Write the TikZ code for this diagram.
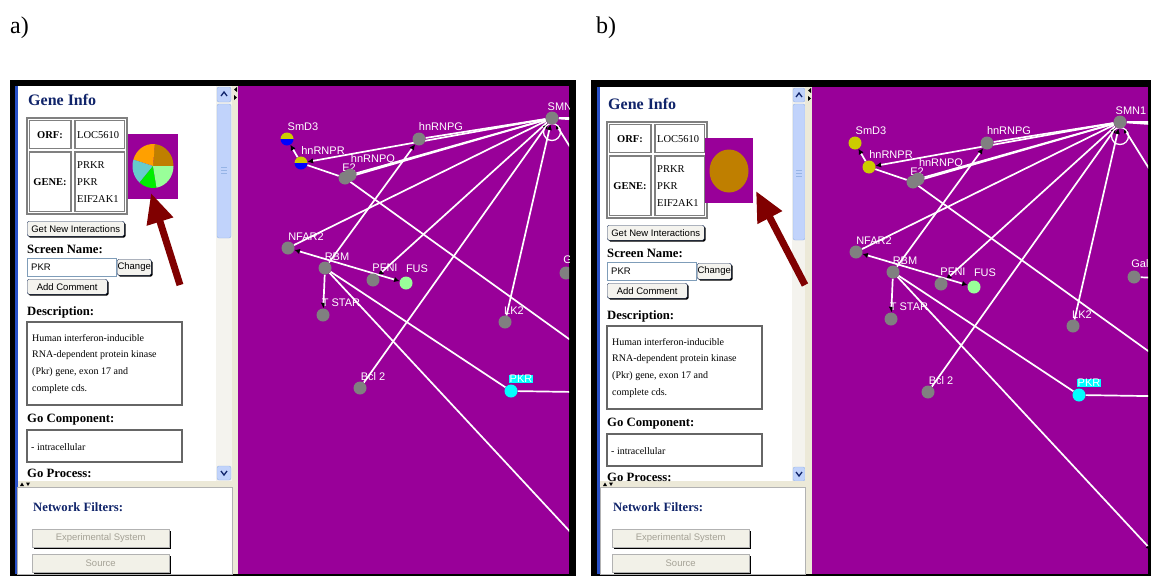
\documentclass[tikz,border=0pt]{standalone}
\usepackage{fontspec}
\setmainfont{Liberation Serif}
\newfontfamily\sansf{Liberation Sans}
\usetikzlibrary{arrows.meta,shadows}
\definecolor{purp}{RGB}{153,0,153}
\definecolor{ngray}{RGB}{128,128,128}
\definecolor{lgreen}{RGB}{153,255,153}
\definecolor{cyanc}{RGB}{0,255,255}
\definecolor{yelc}{RGB}{204,204,0}
\definecolor{bluc}{RGB}{0,0,255}
\definecolor{navy}{RGB}{16,36,106}
\definecolor{dred}{RGB}{128,0,0}
\definecolor{pbrown}{RGB}{191,127,0}
\definecolor{porange}{RGB}{255,160,0}
\definecolor{pcyan}{RGB}{102,204,204}
\definecolor{pgreen}{RGB}{0,238,0}
\definecolor{scrl}{RGB}{193,211,251}
\definecolor{scrlb}{RGB}{150,180,230}
\definecolor{track}{RGB}{244,243,238}
\definecolor{pane}{RGB}{236,233,216}
\definecolor{btnf}{RGB}{244,243,238}
\definecolor{btnb}{RGB}{40,60,100}
\definecolor{gbtnf}{RGB}{242,241,232}
\definecolor{gbtnt}{RGB}{165,162,150}
\definecolor{tboxb}{RGB}{127,157,185}
\definecolor{bline}{RGB}{40,80,200}
\tikzset{
 gn/.style={circle,minimum size=13pt,inner sep=0pt},
 ed/.style={draw=white,line width=1.7pt},
 arr/.style={-{Latex[length=5.5pt,width=5.5pt,color=black]}},
 arrb/.style={{Latex[length=5.5pt,width=5.5pt,color=black]}-{Latex[length=5.5pt,width=5.5pt,color=black]}},
 lab/.style={text=white,font=\sansf\fontsize{11}{12}\selectfont,inner sep=0.6pt},
 hd/.style={font=\bfseries\fontsize{12.7}{14}\selectfont,anchor=west,inner sep=0pt,text=black},
 tb/.style={font=\fontsize{10.5}{12}\selectfont,inner sep=0pt},
 dt/.style={font=\fontsize{10}{12}\selectfont,anchor=west,inner sep=0pt},
 tblo/.style={draw=ngray,line width=1.6pt},
 tbli/.style={draw=ngray,line width=1.2pt},
 boxs/.style={draw=ngray!80!black,line width=1.8pt},
 btn/.style={draw=btnb,fill=btnf,rounded corners=1.5pt,inner sep=0pt,anchor=north west,
   font=\sansf\fontsize{9.5}{11}\selectfont,
   general shadow={fill=black,shadow xshift=1.3pt,shadow yshift=-1.3pt}},
 gbtn/.style={draw=gray!60,fill=gbtnf,inner sep=0pt,anchor=north west,text=gbtnt,
   font=\sansf\fontsize{9.5}{11}\selectfont,
   general shadow={fill=black,shadow xshift=2pt,shadow yshift=-2pt}},
 bigarr/.style={draw=dred,line width=7pt,-{Triangle[length=30pt,width=26pt,color=dred]}},
}
\newcommand\gdot[2]{\fill[#2] (#1.center) circle[radius=6.5];}
\newcommand\halfdot[1]{%
 \fill[yelc] (#1.center) ++(-6.5,0) arc[start angle=180,end angle=360,radius=6.5] -- cycle;
 \fill[bluc] (#1.center) ++(6.5,0) arc[start angle=0,end angle=180,radius=6.5] -- cycle;}
\newcommand\yeldot[1]{\gdot{#1}{yelc}}
\newcommand\netgraph[1]{%
 \node[gn] (SMN) at (552,118) {};
 \node[gn] (SmD3) at (287,139) {};
 \node[gn] (hnRNPR) at (301,163) {};
 \node[gn] (hnRNPG) at (419,139) {};
 \node[gn] (E2) at (345,178) {};
 \node[gn] (E2b) at (350,175) {};
 \node[gn] (NFAR2) at (288,248) {};
 \node[gn] (RBM) at (325,268) {};
 \node[gn] (PFNI) at (373,280) {};
 \node[gn] (FUS) at (406,283) {};
 \node[gn] (TSTAR) at (323,315) {};
 \node[gn] (LK2) at (505,322) {};
 \node[gn] (Gale) at (566,273) {};
 \node[gn] (Bcl2) at (360,388) {};
 \node[gn] (PKR) at (511,391) {};
 \node[gn] (BR) at (588,551) {};
 \coordinate (cR1) at (640,118);
 \coordinate (cR2) at (640,124);
 \coordinate (cDR) at (600,195);
 \coordinate (cE) at (640,390);
 \coordinate (cP) at (640,393);
 \coordinate (cG) at (640,276);
 \draw[ed] (SMN) -- (hnRNPG);
 \draw[ed,arr] (SMN) -- (hnRNPR);
 \draw[ed] (SMN) -- (E2);
 \draw[ed] (SMN) -- (E2b);
 \draw[ed] (SMN) -- (NFAR2);
 \draw[ed,arr] (SMN) -- (PFNI);
 \draw[ed,arr] (Bcl2) -- (SMN);
 \draw[ed,arr] (LK2) -- (SMN);
 \draw[ed] (SMN) -- (cR1);
 \draw[ed] (SMN) -- (cR2);
 \draw[ed,arr] (cDR) -- (SMN);
 \draw[ed,line width=1.3pt] (SMN.center) ++(0,14) circle[radius=8.5];
 \draw[ed,arr] (RBM) -- (hnRNPG);
 \draw[ed] (hnRNPR) -- (E2);
 \draw[ed,arr] (hnRNPR) -- (SmD3);
 \draw[ed,arrb] (NFAR2) -- (FUS);
 \draw[ed,arr] (RBM) -- (TSTAR);
 \draw[ed] (RBM) -- (PKR);
 \draw[ed,arr] (RBM) -- (BR);
 \draw[ed] (E2) -- (cE);
 \draw[ed] (PKR) -- (cP);
 \draw[ed] (Gale) -- (cG);
 \node[lab] (tE2) at (349,168) {E2};
 \gdot{SMN}{ngray}
 #1{SmD3}
 #1{hnRNPR}
 \gdot{hnRNPG}{ngray}
 \gdot{E2}{ngray}
 \gdot{E2b}{ngray}
 \gdot{NFAR2}{ngray}
 \gdot{RBM}{ngray}
 \gdot{PFNI}{ngray}
 \gdot{FUS}{lgreen}
 \gdot{TSTAR}{ngray}
 \gdot{LK2}{ngray}
 \gdot{Gale}{ngray}
 \gdot{Bcl2}{ngray}
 \gdot{PKR}{cyanc}
 \gdot{BR}{ngray}
 \node[lab] (tSMN) at (563,107) {SMN1};
 \node[lab] (tSmD3) at (303,127) {SmD3};
 \node[lab] (thnR) at (323,151) {hnRNPR};
 \node[lab] (thnG) at (441,127) {hnRNPG};
 \node[lab] (thnQ) at (373,160) {hnRNPQ};
 \node[lab] (tNFAR2) at (306,237) {NFAR2};
 \node[lab] (tRBM) at (337,257) {RBM};
 \node[lab] (tPFNI) at (385,268) {PFNI};
 \node[lab] (tFUS) at (417,269) {FUS};
 \node[lab] (tTSTAR) at (341,303) {T STAR};
 \node[lab] (tLK2) at (514,311) {LK2};
 \node[lab] (tGale) at (575,260) {Gale};
 \node[lab] (tBcl2) at (373,377) {Bcl 2};
 \node[lab,fill=cyanc] (tPKR) at (521,379) {PKR};
}
\newcommand\uppercontent{%
 \node[anchor=west,inner sep=0pt,text=navy,font=\bfseries\fontsize{16}{18}\selectfont] (gi) at (28,100) {Gene Info};
 \draw[tblo] (27,118) rectangle (127,214);
 \draw[tbli] (29.5,120.5) rectangle (71,148.5);
 \draw[tbli] (75,120.5) rectangle (124.5,148.5);
 \draw[tbli] (29.5,152) rectangle (71,211.5);
 \draw[tbli] (75,152) rectangle (124.5,211.5);
 \node[tb,font=\bfseries\fontsize{10.5}{12}\selectfont] (orf) at (50,135) {ORF:};
 \node[tb,anchor=west] (loc) at (77,135) {LOC5610};
 \node[tb,font=\bfseries\fontsize{10.5}{12}\selectfont] (gene) at (50,182) {GENE:};
 \node[tb,anchor=west] (g1) at (77,165) {PRKR};
 \node[tb,anchor=west] (g2) at (77,182) {PKR};
 \node[tb,anchor=west] (g3) at (77,199) {EIF2AK1};
 \node[btn,minimum width=97pt,minimum height=15pt] (bgni) at (27,221) {Get New Interactions};
 \node[hd] (sn) at (27,249) {Screen Name:};
 \node[draw=tboxb,fill=white,minimum width=89pt,minimum height=18pt,anchor=north west,inner sep=0pt] (tbx) at (27,258) {};
 \node[anchor=west,inner sep=0pt,font=\sansf\fontsize{9.5}{11}\selectfont] (tpkr) at (31,267) {PKR};
 \node[btn,minimum width=34pt,minimum height=16pt] (bch) at (117,259) {Change};
 \node[btn,minimum width=80pt,minimum height=15pt] (bac) at (27,279) {Add Comment};
 \node[hd] (desc) at (27,312) {Description:};
 \draw[boxs] (27,322) rectangle (182,405);
 \node[dt] (d1) at (32,338) {Human interferon-inducible};
 \node[dt] (d2) at (32,355) {RNA-dependent protein kinase};
 \node[dt] (d3) at (32,372) {(Pkr) gene, exon 17 and};
 \node[dt] (d4) at (32,389) {complete cds.};
 \node[hd] (gc) at (27,420) {Go Component:};
 \draw[boxs] (27,430) rectangle (182,462);
 \node[dt] (ic) at (31,447) {- intracellular};
 \node[hd] (gp) at (27,473) {Go Process:};
}
\newcommand\lowercontent{%
 \node[anchor=west,inner sep=0pt,text=navy,font=\bfseries\fontsize{12.7}{14}\selectfont] (nf) at (33,507) {Network Filters:};
 \node[gbtn,minimum width=137pt,minimum height=18pt] (bes) at (32,529) {Experimental System};
 \node[gbtn,minimum width=137pt,minimum height=18pt] (bsrc) at (32,554) {Source};
}
\begin{document}
\begin{tikzpicture}[x=1pt,y=-1pt]
\useasboundingbox (0,0) rectangle (1151,576);
\fill[white] (0,0) rectangle (1151,576);
\node[anchor=west,inner sep=0pt,font=\fontsize{24}{26}\selectfont] (la) at (10,28) {a)};
\node[anchor=west,inner sep=0pt,font=\fontsize{24}{26}\selectfont] (lb) at (596,28) {b)};
% ---------------- panel a frame
\fill[black] (10,80) rectangle (576,576);
\fill[bline] (15,86) rectangle (17.5,574);
\fill[white] (17.5,86) rectangle (216,481);
\fill[track] (216,86) rectangle (232,481);
\fill[scrl,draw=scrlb,rounded corners=2pt] (217,87) rectangle (231,102);
\draw[navy,line width=1.3pt] (221,96) -- (224,92) -- (227,96);
\fill[scrl,draw=scrlb,rounded corners=2pt] (217,104) rectangle (231,238);
\foreach \yy in {167,170,173} {\draw[scrlb,line width=0.8pt] (221,\yy) -- (227,\yy);}
\fill[scrl,draw=scrlb,rounded corners=2pt] (217,466) rectangle (231,480);
\draw[navy,line width=1.3pt] (221,471) -- (224,475) -- (227,471);
\fill[pane] (232,86) rectangle (238,574);
\fill[black] (237,87) -- (234,89.5) -- (237,92) -- cycle;
\fill[black] (234,95) -- (237,97.5) -- (234,100) -- cycle;
\fill[pane] (17.5,481) rectangle (232,487);
\fill[black] (20,486) -- (22,482.5) -- (24,486) -- cycle;
\fill[black] (26,482.5) -- (28,486) -- (30,482.5) -- cycle;
\fill[white,draw=gray!60] (17.5,487) rectangle (232,574);
\uppercontent
\begin{scope}
\clip (17.5,487) rectangle (232,574);
\lowercontent
\end{scope}
\begin{scope}
\clip (238,86) rectangle (569,574);
\fill[purp] (238,86) rectangle (569,574);
\netgraph{\halfdot}
\end{scope}
% pie
\fill[purp] (128,134) rectangle (178,199);
\coordinate (pc) at (153,166);
\fill[pbrown] (pc) -- ++({20.5*cos(0)},{22*sin(0)}) arc[start angle=0,end angle=-85,x radius=20.5,y radius=22] -- cycle;
\fill[porange] (pc) -- ++({20.5*cos(-85)},{22*sin(-85)}) arc[start angle=-85,end angle=-163,x radius=20.5,y radius=22] -- cycle;
\fill[pcyan] (pc) -- ++({20.5*cos(-163)},{22*sin(-163)}) arc[start angle=-163,end angle=-229,x radius=20.5,y radius=22] -- cycle;
\fill[pgreen] (pc) -- ++({20.5*cos(-229)},{22*sin(-229)}) arc[start angle=-229,end angle=-280,x radius=20.5,y radius=22] -- cycle;
\fill[lgreen] (pc) -- ++({20.5*cos(-280)},{22*sin(-280)}) arc[start angle=-280,end angle=-360,x radius=20.5,y radius=22] -- cycle;
\coordinate (atail) at (180,285);
\coordinate (ahead) at (151,193);
\draw[bigarr] (atail) -- (ahead);
% ---------------- panel b frame
\fill[black] (591,80) rectangle (1151,576);
\fill[bline] (597,87) rectangle (600,574);
\fill[white] (600,87) rectangle (792,481);
\fill[track] (792,87) rectangle (805,481);
\fill[scrl,draw=scrlb,rounded corners=2pt] (793,88) rectangle (805,102);
\draw[navy,line width=1.3pt] (796,97) -- (799,93) -- (802,97);
\fill[scrl,draw=scrlb,rounded corners=2pt] (793,104) rectangle (805,240);
\foreach \yy in {170,173,176} {\draw[scrlb,line width=0.8pt] (796,\yy) -- (802,\yy);}
\fill[scrl,draw=scrlb,rounded corners=2pt] (793,467) rectangle (805,481);
\draw[navy,line width=1.3pt] (796,472) -- (799,476) -- (802,472);
\fill[pane] (805,87) rectangle (812,574);
\fill[black] (811,88) -- (808,90.5) -- (811,93) -- cycle;
\fill[black] (808,96) -- (811,98.5) -- (808,101) -- cycle;
\fill[pane] (600,481) rectangle (805,487);
\fill[black] (603,486) -- (605,482.5) -- (607,486) -- cycle;
\fill[black] (609,482.5) -- (611,486) -- (613,482.5) -- cycle;
\fill[white,draw=gray!60] (600,487) rectangle (805,574);
\begin{scope}[shift={(580,4)},name prefix=b-]
\uppercontent
\end{scope}
\begin{scope}
\clip (600,487) rectangle (805,574);
\begin{scope}[shift={(580,0)},name prefix=b-]
\lowercontent
\end{scope}
\end{scope}
\begin{scope}
\clip (812,87) rectangle (1148,574);
\fill[purp] (812,87) rectangle (1148,574);
\begin{scope}[shift={(568,4)},name prefix=b-]
\netgraph{\yeldot}
\end{scope}
\end{scope}
\fill[purp] (705,138) rectangle (753,203);
\fill[pbrown] (729,171) ellipse[x radius=19.5,y radius=21.5];
\coordinate (btail) at (805,285);
\coordinate (bhead) at (756,191);
\draw[bigarr] (btail) -- (bhead);
\end{tikzpicture}
\end{document}
